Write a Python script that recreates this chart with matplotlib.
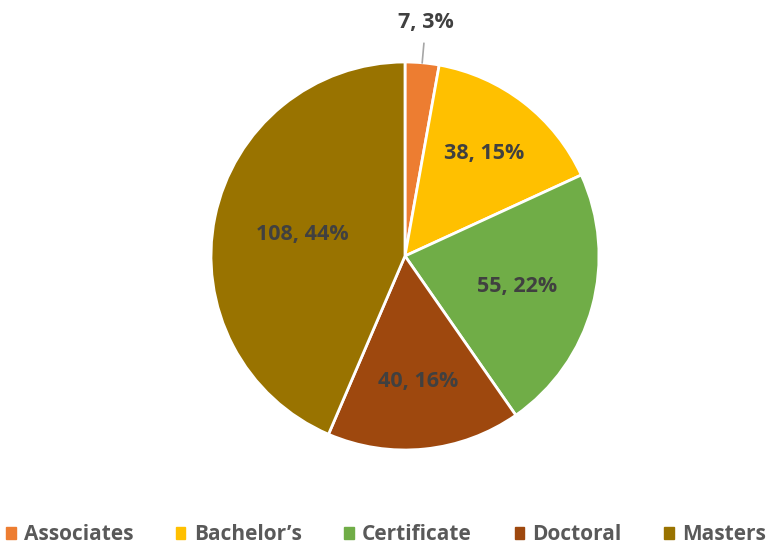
import matplotlib.pyplot as plt
import matplotlib.patches as mpatches
import numpy as np

categories = ["Associates", "Bachelor\u2019s", "Certificate", "Doctoral", "Masters"]
counts = [7, 38, 55, 40, 108]
colors = ["#ED7D31", "#FFC000", "#70AD47", "#9E480E", "#997300"]

# how far from centre each label sits (fraction of radius)
label_radius = [1.21, 0.67, 0.6, 0.65, 0.54]

plt.rcParams["font.family"] = ["Open Sans", "DejaVu Sans"]

fig = plt.figure(figsize=(7.72, 5.48), dpi=100)
ax = fig.add_axes([211 / 772, 98 / 548, 388 / 772, 388 / 548])

wedges, _ = ax.pie(
    counts,
    colors=colors,
    startangle=90,
    counterclock=False,
    radius=1.0,
    wedgeprops=dict(edgecolor="white", linewidth=2),
)
ax.set_xlim(-1, 1)
ax.set_ylim(-1, 1)
ax.set_aspect("equal")
ax.axis("off")

total = sum(counts)
for w, n, r in zip(wedges, counts, label_radius):
    mid = np.deg2rad((w.theta1 + w.theta2) / 2)
    x, y = r * np.cos(mid), r * np.sin(mid)
    txt = f"{n}, {round(100 * n / total)}%"
    ax.text(x, y, txt, ha="center", va="center", fontsize=15.5,
            fontweight="bold", color="#404040", clip_on=False)
    if r > 1:
        ax.plot([np.cos(mid) * 1.0, np.cos(mid) * 1.1],
                [np.sin(mid) * 1.0, np.sin(mid) * 1.1],
                color="#A6A6A6", linewidth=1.2, clip_on=False)

handles = [mpatches.Patch(color=c, label=l) for c, l in zip(colors, categories)]
leg = fig.legend(
    handles=handles,
    loc="center",
    bbox_to_anchor=(0.5, 1 - 535 / 548),
    ncol=5,
    frameon=False,
    fontsize=15,
    handlelength=0.45,
    handleheight=0.45,
    handletextpad=0.4,
    columnspacing=2.05,
)
for t in leg.get_texts():
    t.set_color("#595959")
    t.set_fontweight("bold")

fig.savefig("out.png", dpi=100)
